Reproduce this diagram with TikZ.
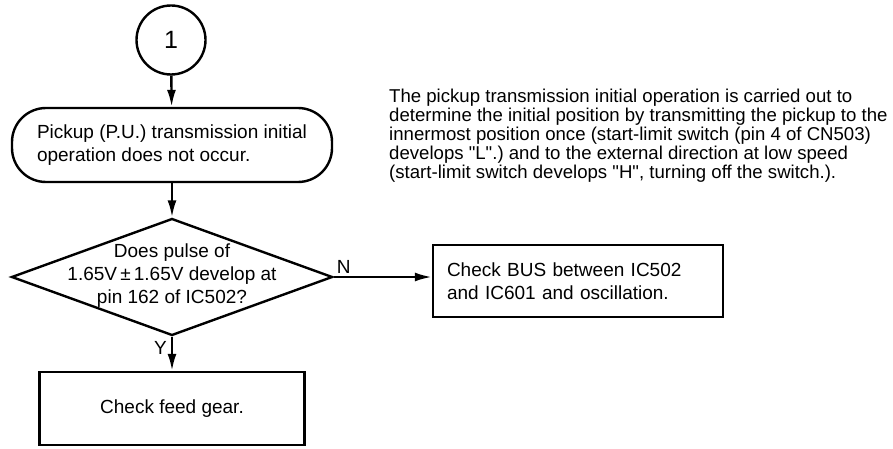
\documentclass[tikz,border=0pt]{standalone}
\usepackage{fontspec}
\setmainfont{Liberation Sans}
\usetikzlibrary{shapes.geometric,arrows.meta}

\tikzset{every picture/.style={line width=1.2pt}}

\begin{document}
\begin{tikzpicture}[x=0.5pt, y=-0.5pt, >={Latex[length=8.5pt,width=4.5pt]},
    boxtext/.style={font=\fontsize{9.5}{11.5}\selectfont}]
    \useasboundingbox (0,0) rectangle (893,449);
    \node[draw, circle, minimum size=34.5pt, inner sep=0pt, font=\fontsize{12.5}{12.5}\selectfont] (start) at (171,40) {1};
    \node[draw, rounded corners=17pt, minimum width=160pt, minimum height=37pt, align=left, boxtext] (pickup) at (172,145) {Pickup (P.U.) transmission initial\\operation does not occur.};
    \node[draw, diamond, minimum width=160.5pt, minimum height=58.5pt, inner sep=0pt] (pulse) at (172,277) {};
    \node[align=center, boxtext] (pulsetext) at (172,276) {Does pulse of\\1.65V\,±\,1.65V develop at\\pin 162 of IC502?};
    \node[draw, minimum height=36pt, inner xsep=7pt, text width=131pt, align=left, boxtext] (bus) at (578,281) {Check BUS between IC502\\and IC601 and oscillation.};
    \node[draw, minimum width=132.5pt, minimum height=36.5pt, boxtext] (feed) at (172,408.5) {Check feed gear.};
    \node[anchor=north west, inner sep=0pt, align=left, font=\fontsize{9.3}{9.6}\selectfont] (note) at (388,87.5) {The pickup transmission initial operation is carried out to\\determine the initial position by transmitting the pickup to the\\innermost position once (start-limit switch (pin 4 of CN503)\\develops \textquotedbl L\textquotedbl .) and to the external direction at low speed\\(start-limit switch develops \textquotedbl H\textquotedbl , turning off the switch.).};
    \draw[->] (start) -- (pickup);
    \draw[->] (pickup) -- (pulse);
    \draw[->] (pulse.east) -- (pulse.east -| bus.west);
    \draw[->] (pulse.south) -- (feed.north);
    \node[anchor=south west, inner sep=1pt, boxtext] (nlabel) at (pulse.east) {N};
    \node[anchor=north east, inner sep=2pt, boxtext] (ylabel) at (pulse.south) {Y};
\end{tikzpicture}
\end{document}
